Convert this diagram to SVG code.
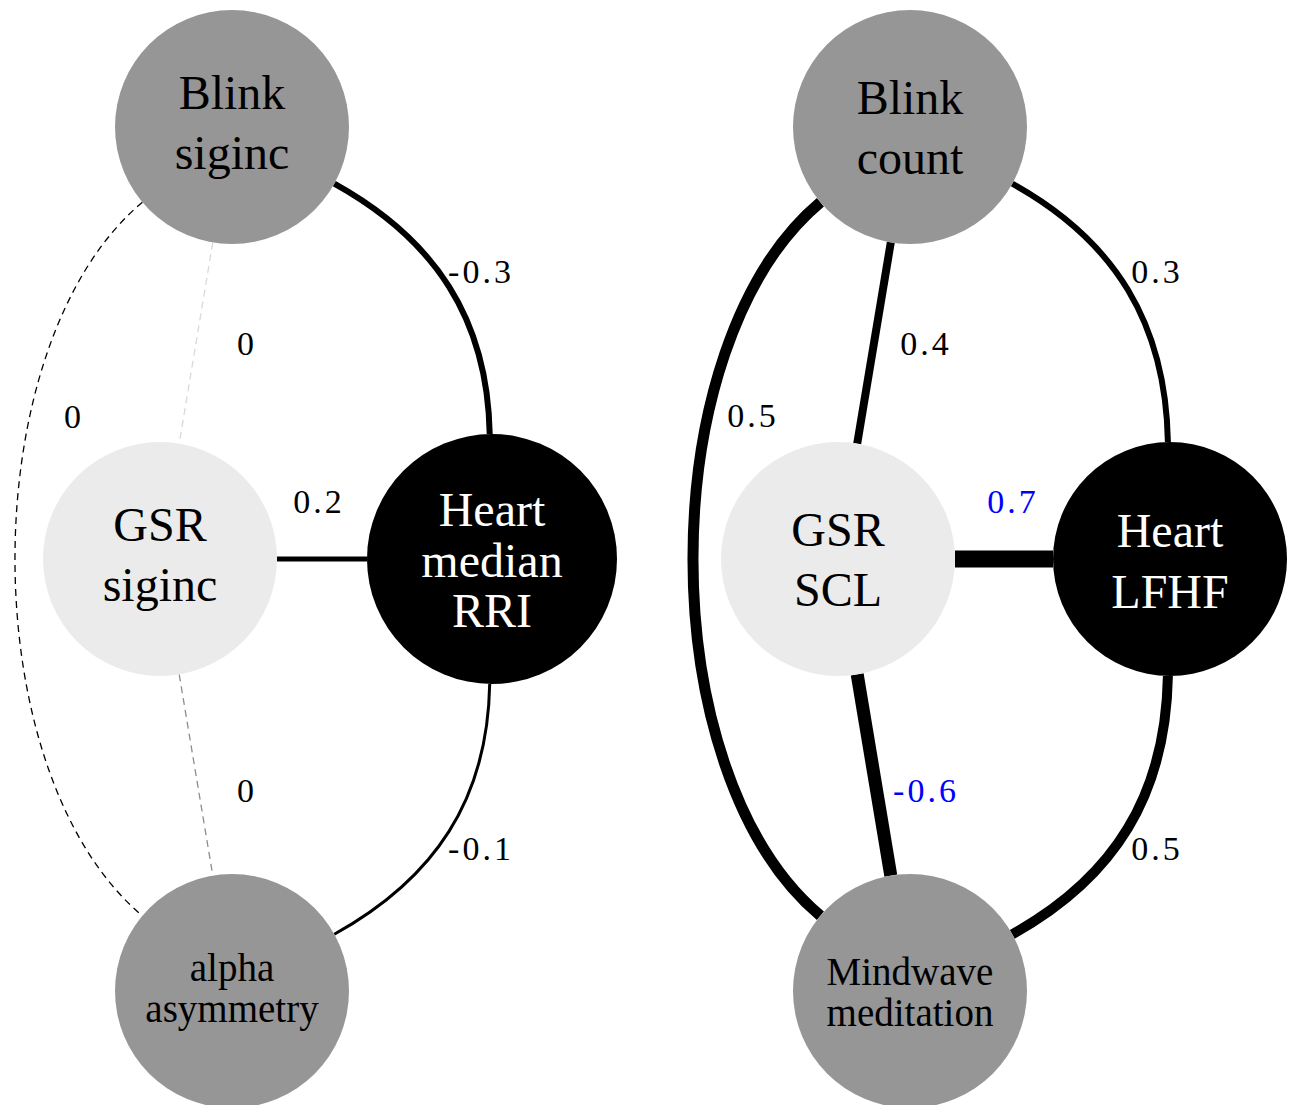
<svg xmlns="http://www.w3.org/2000/svg" width="1291" height="1105" viewBox="0 0 1291 1105">
  <style>
    .edge { fill: none; stroke: #000; stroke-linecap: butt; }
    .zero { fill: none; stroke-width: 1.3; stroke-dasharray: 7 5; }
    .lbl { font-family: "Liberation Serif", "Times New Roman", serif; font-size: 34px; letter-spacing: 3px; text-anchor: middle; fill: #000; }
    .blue { fill: #0000ff; }
    .name { font-family: "Liberation Serif", "Times New Roman", serif; font-size: 48px; text-anchor: middle; fill: #000; }
    .small { font-size: 39px; }
    .light { fill: #fff; }
    .grey { fill: #969696; }
    .pale { fill: #ebebeb; }
    .dark { fill: #000; }
  </style>

  <!-- connectors -->
  <g id="edges">
    <!-- left network -->
    <path id="e-blink-heart-l" class="edge" stroke-width="6" d="M334.3,183.7 C435.1,239.6 487.6,318.7 489.7,434"/>
    <path id="e-heart-alpha" class="edge" stroke-width="3" d="M489.7,684 C487.6,799.3 435.1,878.4 334.3,934.3"/>
    <line id="e-gsr-heart-l" class="edge" stroke-width="5" x1="277" y1="559" x2="367" y2="559"/>
    <line id="e-blink-gsr-l" class="zero" stroke="#d9d9d9" x1="212.8" y1="242.4" x2="179.2" y2="443.6"/>
    <line id="e-gsr-alpha" class="zero" stroke="#8c8c8c" x1="179.2" y1="674.4" x2="212.8" y2="875.6"/>
    <path id="e-blink-alpha" class="zero" stroke="#000" stroke-width="1.5" d="M142.4,202.2 C-27.5,344.8 -27.5,773.2 142.4,915.8"/>

    <!-- right network -->
    <path id="e-blink-heart-r" class="edge" stroke-width="6" d="M1012.3,183.7 C1115.5,240.9 1165.8,324 1167.9,442"/>
    <path id="e-heart-mind" class="edge" stroke-width="10" d="M1167.9,676 C1165.8,794 1115.5,877.1 1012.3,934.3"/>
    <line id="e-blink-gsr-r" class="edge" stroke-width="8" x1="890.8" y1="242.4" x2="857.2" y2="443.6"/>
    <line id="e-gsr-mind" class="edge" stroke-width="13" x1="857.2" y1="674.4" x2="890.8" y2="875.6"/>
    <line id="e-gsr-heart-r" class="edge" stroke-width="17" x1="955" y1="559" x2="1053" y2="559"/>
    <path id="e-blink-mind" class="edge" stroke-width="11" d="M820.4,202.2 C650.5,344.8 650.5,773.2 820.4,915.8"/>

    <!-- weights -->
    <text class="lbl" x="481" y="283">-0.3</text>
    <text class="lbl" x="247" y="355">0</text>
    <text class="lbl" x="74" y="428">0</text>
    <text class="lbl" x="319" y="513">0.2</text>
    <text class="lbl" x="247" y="802">0</text>
    <text class="lbl" x="481" y="860">-0.1</text>

    <text class="lbl" x="1157" y="283">0.3</text>
    <text class="lbl" x="926" y="355">0.4</text>
    <text class="lbl" x="753" y="427">0.5</text>
    <text class="lbl blue" x="1013" y="513">0.7</text>
    <text class="lbl blue" x="926" y="802">-0.6</text>
    <text class="lbl" x="1157" y="860">0.5</text>
  </g>

  <!-- left network nodes -->
  <g id="blink-siginc">
    <circle class="grey" cx="232" cy="127" r="117"/>
    <text class="name" x="232" y="109">Blink</text>
    <text class="name" x="232" y="169">siginc</text>
  </g>
  <g id="gsr-siginc">
    <circle class="pale" cx="160" cy="559" r="117"/>
    <text class="name" x="160" y="541">GSR</text>
    <text class="name" x="160" y="601">siginc</text>
  </g>
  <g id="heart-median-rri">
    <circle class="dark" cx="492" cy="559" r="125"/>
    <text class="name light" x="492" y="526">Heart</text>
    <text class="name light" x="492" y="577">median</text>
    <text class="name light" x="492" y="627">RRI</text>
  </g>
  <g id="alpha-asymmetry">
    <circle class="grey" cx="232" cy="991" r="117"/>
    <text class="name small" x="232" y="981">alpha</text>
    <text class="name small" x="232" y="1022">asymmetry</text>
  </g>

  <!-- right network nodes -->
  <g id="blink-count">
    <circle class="grey" cx="910" cy="127" r="117"/>
    <text class="name" x="910" y="114">Blink</text>
    <text class="name" x="910" y="174">count</text>
  </g>
  <g id="gsr-scl">
    <circle class="pale" cx="838" cy="559" r="117"/>
    <text class="name" x="838" y="546">GSR</text>
    <text class="name" x="838" y="606">SCL</text>
  </g>
  <g id="heart-lfhf">
    <circle class="dark" cx="1170" cy="559" r="117"/>
    <text class="name light" x="1170" y="547">Heart</text>
    <text class="name light" x="1170" y="608">LFHF</text>
  </g>
  <g id="mindwave-meditation">
    <circle class="grey" cx="910" cy="991" r="117"/>
    <text class="name small" x="910" y="985">Mindwave</text>
    <text class="name small" x="910" y="1026">meditation</text>
  </g>
</svg>
